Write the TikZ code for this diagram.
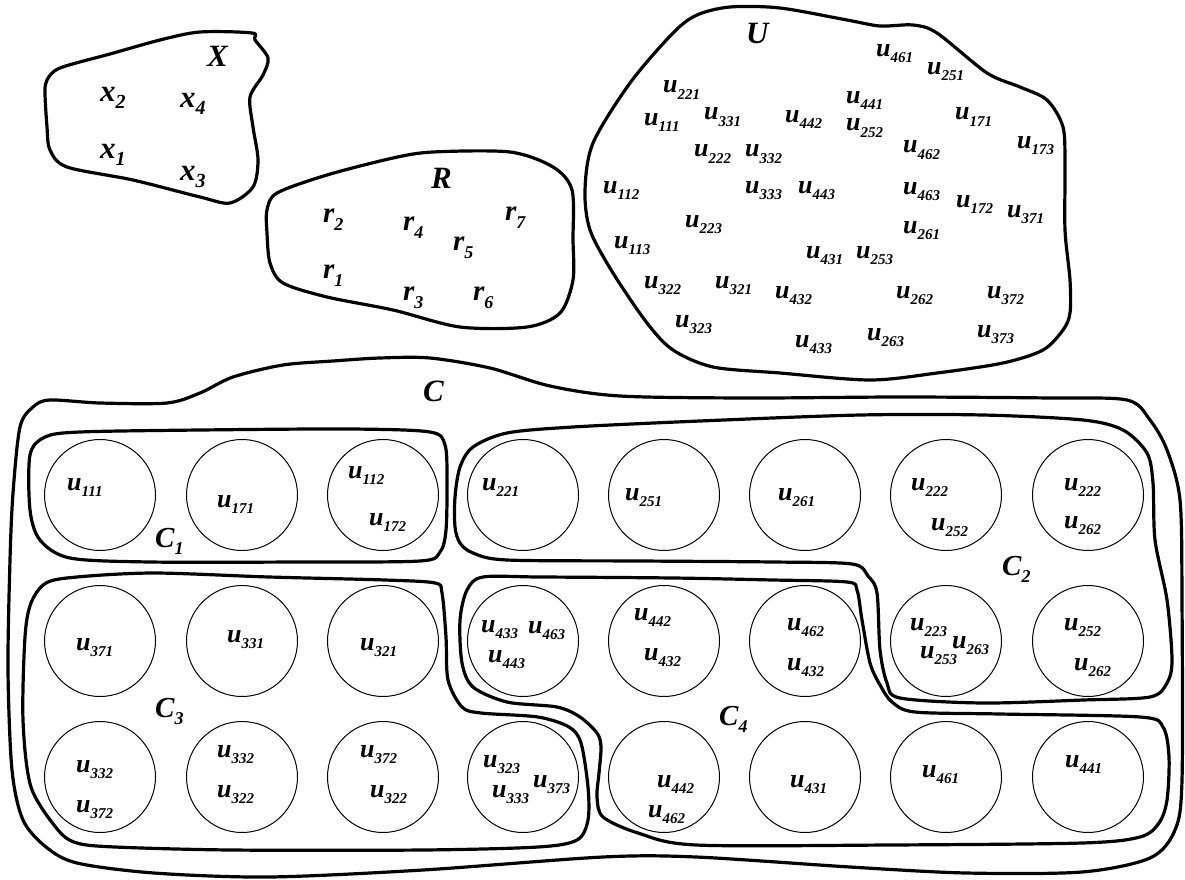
\documentclass[tikz,border=0pt]{standalone}
\usepackage{fontspec}
\setmainfont{Liberation Serif}
\newcommand{\labU}[1]{{\fontsize{26}{26}\selectfont u}\raisebox{-6pt}{\fontsize{15}{15}\selectfont #1}}
\newcommand{\labX}[1]{{\fontsize{31}{31}\selectfont x}\raisebox{-7pt}{\fontsize{20}{20}\selectfont #1}}
\newcommand{\labR}[1]{{\fontsize{29}{29}\selectfont r}\raisebox{-8pt}{\fontsize{18}{18}\selectfont #1}}
\newcommand{\labC}[1]{{\fontsize{29}{29}\selectfont C}\raisebox{-7pt}{\fontsize{18}{18}\selectfont #1}}
\begin{document}
\begin{tikzpicture}[x=1pt,y=-1pt,
  lab/.style={anchor=base west, inner sep=0pt, font=\bfseries\itshape},
  big/.style={anchor=base west, inner sep=0pt, font=\bfseries\itshape\fontsize{31}{31}\selectfont},
  blob/.style={line width=3.2pt, line join=round},
  circ/.style={circle, draw, line width=1pt, minimum size=111pt, inner sep=0pt}]
\useasboundingbox (0,0) rectangle (1185,880);
% X
\draw[blob] plot[smooth cycle, tension=0.5] coordinates {(47,80)(60,68)(110,54)(160,40)(200,32)(252,33)(255,40)(268,58)(263,75)(250,97)(253,127)(258,160)(253,187)(230,203)(200,197)(133,180)(67,167)(50,150)(47,127)(45,93)};
\node[big] (X) at (207,67) {X};
\node[lab] (x2) at (100,102) {\labX{2}};
\node[lab] (x4) at (180,108) {\labX{4}};
\node[lab] (x1) at (100,158) {\labX{1}};
\node[lab] (x3) at (180,180) {\labX{3}};
% R
\draw[blob] plot[smooth cycle, tension=0.5] coordinates {(267,210)(277,193)(327,175)(393,158)(433,152)(510,152)(553,167)(572,190)(573,240)(573,280)(560,313)(527,327)(460,327)(393,310)(327,297)(283,283)(270,263)(267,233)};
\node[big] (R) at (431,188) {R};
\node[lab] (r2) at (323,222) {\labR{2}};
\node[lab] (r4) at (403,230) {\labR{4}};
\node[lab] (r5) at (453,250) {\labR{5}};
\node[lab] (r7) at (505,220) {\labR{7}};
\node[lab] (r1) at (323,278) {\labR{1}};
\node[lab] (r3) at (403,300) {\labR{3}};
\node[lab] (r6) at (473,300) {\labR{6}};
% U
\draw[blob] plot[smooth cycle, tension=0.5] coordinates {(697,15)(730,7)(780,8)(847,20)(880,26)(913,25)(937,33)(987,73)(1020,87)(1047,100)(1063,127)(1065,167)(1065,230)(1070,280)(1070,313)(1063,330)(1043,350)(1003,363)(937,373)(870,380)(780,373)(713,367)(673,350)(647,323)(613,273)(590,230)(585,190)(593,143)(630,83)(673,33)};
\node[big] (U) at (746,44) {U};
\foreach \n/\x/\y in {221/663/93,111/644/125,331/704/120,442/785/122,441/846/103,252/846/131,222/694/157,332/745/157,112/603/193,333/745/193,443/798/193,461/876/57,251/927/75,171/955/120,462/903/153,173/1017/148,463/903/194,172/956/207,371/1007/217,261/903/233,262/896/298,372/987/298,263/867/340,373/977/337,223/685/227,113/614/248,431/806/258,253/856/258,322/644/288,321/715/288,432/775/298,323/675/327,433/795/347}
  \node[lab] (u\n) at (\x,\y) {\labU{\n}};
% C outer
\draw[blob] plot[smooth cycle, tension=0.5] coordinates {(20,427)(33,407)(50,400)(100,403)(167,403)(200,393)(233,377)(283,365)(333,361)(380,358)(430,358)(490,368)(550,386)(620,396)(750,398)(900,397)(1050,398)(1127,400)(1150,420)(1167,450)(1180,500)(1182,600)(1182,780)(1175,830)(1150,858)(1082,872)(966,873)(850,867)(696,857)(603,857)(423,870)(269,877)(154,873)(77,863)(46,847)(23,820)(12,770)(8,670)(10,560)(13,493)};
\node[big] (C) at (423,401) {C};
% C1
\draw[blob] plot[smooth cycle, tension=0.5] coordinates {(30,455)(45,437)(80,432)(200,430)(350,429)(430,432)(445,445)(447,480)(446,530)(440,552)(420,561)(300,562)(150,562)(70,558)(40,540)(30,510)};
% C2
\draw[blob] plot[smooth cycle, tension=0.5] coordinates {(455,497)(460,467)(473,447)(507,433)(573,427)(700,421)(860,415)(983,415)(1083,420)(1123,430)(1147,453)(1153,483)(1155,540)(1167,600)(1172,660)(1167,683)(1150,697)(1083,700)(983,703)(900,698)(887,683)(880,650)(877,593)(868,576)(852,564)(773,562)(640,561)(507,560)(473,553)(460,543)(455,527)};
% C3
\draw[blob] plot[smooth cycle, tension=0.5] coordinates {(46,583)(77,577)(154,573)(269,577)(385,580)(435,583)(442,593)(446,637)(448,680)(462,707)(481,713)(538,717)(569,727)(581,743)(588,787)(588,820)(577,840)(538,847)(423,850)(231,850)(115,847)(77,843)(58,830)(31,787)(23,720)(25,637)(31,603)};
% C4
\draw[blob] plot[smooth cycle, tension=0.5] coordinates {(483,577)(540,577)(673,578)(773,580)(847,582)(857,590)(862,620)(870,663)(880,685)(892,702)(915,712)(1000,714)(1140,717)(1163,727)(1169,757)(1167,800)(1159,823)(1140,837)(1082,843)(889,845)(696,845)(638,833)(603,817)(597,797)(599,773)(601,747)(597,733)(580,717)(557,707)(507,702)(473,687)(462,663)(460,620)(467,590)};
% circles
\foreach \x [count=\i] in {100,242,383,523,664,805,946,1088}
  \node[circ] (ka\i) at (\x,495) {};
\foreach \x [count=\i] in {100,242,383,523,664,805,946,1088}
  \node[circ] (kb\i) at (\x,641) {};
\foreach \x [count=\i] in {100,242,383,523,664,805,946,1088}
  \node[circ] (kc\i) at (\x,777) {};
% circle labels
\foreach \n/\x/\y [count=\i] in {111/67/490,171/217/507,112/348/478,172/369/525,221/482/490,251/625/500,261/778/500,222/911/490,252/931/530,222/1064/490,262/1064/528,223/910/630,263/952/648,253/920/658,252/1064/630,262/1074/670,433/481/632,463/528/633,443/488/662,442/634/620,432/644/660,462/787/630,432/787/670,371/76/650,331/227/642,321/360/650,332/76/772,372/76/812,332/217/757,322/217/797,372/360/757,322/370/797,323/483/767,333/492/797,373/533/787,442/657/787,462/648/817,431/790/787,461/922/777,441/1065/767}
  \node[lab] (cl\i) at (\x,\y) {\labU{\n}};
\node[lab] (C1) at (155,547) {\labC{1}};
\node[lab] (C2) at (1002,575) {\labC{2}};
\node[lab] (C3) at (155,717) {\labC{3}};
\node[lab] (C4) at (719,725) {\labC{4}};
\end{tikzpicture}
\end{document}
